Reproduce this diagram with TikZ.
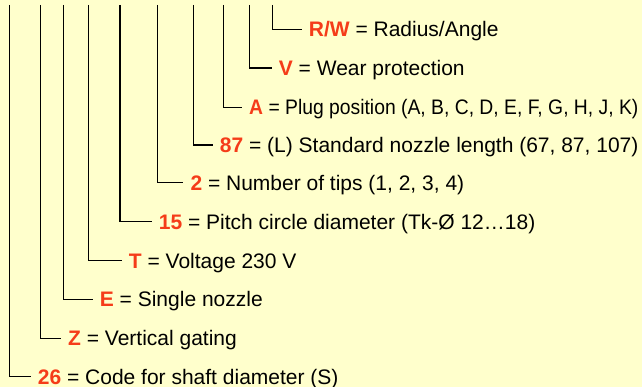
\documentclass[tikz,border=0pt]{standalone}
\usepackage{fontspec}
\setmainfont{Liberation Sans}
\definecolor{bgyellow}{HTML}{FFFFCC}
\definecolor{codered}{RGB}{245,60,25}
\tikzset{
  lab/.style={anchor=west, inner xsep=7pt, inner ysep=0pt, text height=15pt, text depth=0pt,
    font=\fontsize{21}{25}\selectfont, text=black},
  lead/.style={draw=black, line width=1.3pt},
}
\newcommand{\code}[1]{\textcolor{codered}{\bfseries #1}}
\begin{document}
\begin{tikzpicture}[x=1pt,y=-1pt]
\fill[bgyellow] (0,0) rectangle (642,387);
\useasboundingbox (0,0) rectangle (642,387);
% labels
\node[lab] (l1)  at (30.7,376.7) {\code{26} = Code for shaft diameter (S)};
\node[lab] (l2)  at (61,338.3)   {\code{Z} = Vertical gating};
\node[lab] (l3)  at (92.7,299.3) {\code{E} = Single nozzle};
\node[lab] (l4)  at (121.7,260.7) {\code{T} = Voltage 230 V};
\node[lab] (l5)  at (151.7,221.7) {\code{15} = Pitch circle diameter (Tk-Ø 12…18)};
\node[lab] (l6)  at (183.3,182.7) {\code{2} = Number of tips (1, 2, 3, 4)};
\node[lab] (l7)  at (212.7,145)   {\code{87} = (L) Standard nozzle length (67, 87, 107)};
\node[lab] (l8)  at (242,107.5)   {\scalebox{0.92}[1]{\code{A} = Plug position (A, B, C, D, E, F, G, H, J, K)}};
\node[lab] (l9)  at (271.7,68)    {\code{V} = Wear protection};
\node[lab] (l10) at (301.7,29.5)  {\code{R/W} = Radius/Angle};
% top ends
\coordinate (t1)  at (9.5,5);
\coordinate (t2)  at (40.7,5);
\coordinate (t3)  at (63.5,5);
\coordinate (t4)  at (88.5,5);
\coordinate (t5)  at (120,5);
\coordinate (t6)  at (157.5,5);
\coordinate (t7)  at (193.5,5);
\coordinate (t8)  at (223.5,5);
\coordinate (t9)  at (249.5,5);
\coordinate (t10) at (272.7,5);
\foreach \i in {1,...,10}{
  \draw[lead] (t\i) |- (l\i.west);
}
\end{tikzpicture}
\end{document}
